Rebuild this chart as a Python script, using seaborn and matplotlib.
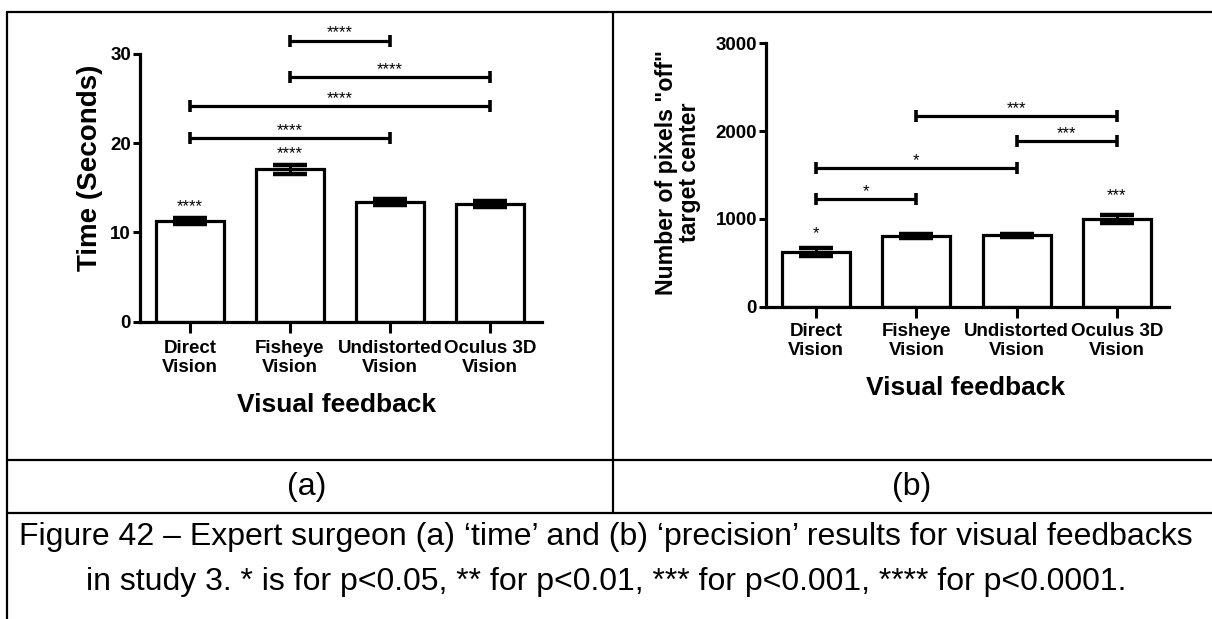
import matplotlib
matplotlib.use("Agg")
import matplotlib.pyplot as plt
import seaborn as sns
import pandas as pd
from matplotlib.lines import Line2D

# ---------------- data ----------------
categories = ["Direct\nVision", "Fisheye\nVision", "Undistorted\nVision", "Oculus 3D\nVision"]

time_mean = [11.3, 17.1, 13.4, 13.2]
time_sem = [0.35, 0.5, 0.3, 0.35]
time_yticks = [0, 10, 20, 30]

pix_mean = [620, 805, 813, 995]
pix_sem = [45, 25, 20, 45]
pix_yticks = [0, 1000, 2000, 3000]

# significance brackets (category pairs, height, label)
time_pairs = [(1, 2), (1, 3), (0, 3), (0, 2)]
time_heights = [31.5, 27.4, 24.2, 20.6]
time_labels = ["****", "****", "****", "****"]
time_bar_stars = ["****", "****", "", ""]
time_bar_star_y = [12.1, 18.0, None, None]

pix_pairs = [(0, 1), (0, 2), (2, 3), (1, 3)]
pix_heights = [1227, 1580, 1888, 2172]
pix_labels = ["*", "*", "***", "***"]
pix_bar_stars = ["*", "", "", "***"]
pix_bar_star_y = [748, None, None, 1181]

ylabel_a = "Time (Seconds)"
ylabel_b = "Number of pixels \"off\"\ntarget center"
xlabel = "Visual feedback"
caption1 = "Figure 42 \u2013 Expert surgeon (a) \u2018time\u2019 and (b) \u2018precision\u2019 results for visual feedbacks"
caption2 = "in study 3. * is for p<0.05, ** for p<0.01, *** for p<0.001, **** for p<0.0001."

# ---------------- style ----------------
sns.set_style("ticks")
plt.rcParams["font.family"] = ["Liberation Sans", "DejaVu Sans"]
for k in ["text.color", "axes.labelcolor", "xtick.color", "ytick.color", "axes.edgecolor"]:
    plt.rcParams[k] = "black"

W, H = 1212, 619
fig = plt.figure(figsize=(W / 100, H / 100), dpi=100)


def px_axes(x0, y_top, x1, y_bot):
    return [x0 / W, 1 - y_bot / H, (x1 - x0) / W, (y_bot - y_top) / H]


def draw_panel(ax, means, sems, yticks, pairs, heights, labels, bstars, bstar_y,
               ylabel, ylabel_size, ylabel_pos, xlabel_pos, cap_px, xpad):
    df = pd.DataFrame({"cat": categories, "val": means})
    sns.barplot(data=df, x="cat", y="val", ax=ax, color="white", edgecolor="black",
                linewidth=2.3, width=0.68, saturation=1, errorbar=None)
    ax.errorbar(range(len(means)), means, yerr=sems, fmt="none", ecolor="black",
                elinewidth=2.2, capsize=cap_px / 1.389, capthick=3.2, zorder=5)
    ax.set_ylim(yticks[0], yticks[-1])
    ax.set_xlim(-0.5, 3.52)
    ax.set_yticks(yticks)
    ax.set_yticklabels([str(t) for t in yticks], fontsize=13.5, fontweight="bold")
    ax.set_xticks(range(len(categories)))
    ax.set_xticklabels(categories, fontsize=13.5, fontweight="bold", linespacing=1.15)
    ax.tick_params(axis="x", length=8, width=2.2, pad=xpad, color="black", labelcolor="black")
    ax.tick_params(axis="y", length=5, width=2.2, pad=1.5, color="black", labelcolor="black")
    sns.despine(ax=ax)
    for s in ["left", "bottom"]:
        ax.spines[s].set_linewidth(2.3)
        ax.spines[s].set_color("black")
    ax.set_ylabel(ylabel, fontsize=ylabel_size, fontweight="bold", linespacing=1.0, color="black")
    ax.yaxis.label.set_verticalalignment("center")
    ax.yaxis.set_label_coords(*ylabel_pos)
    ax.set_xlabel(xlabel, fontsize=19, fontweight="bold", color="black")
    ax.xaxis.label.set_verticalalignment("center")
    ax.xaxis.set_label_coords(*xlabel_pos)
    for (a, b), h, lab in zip(pairs, heights, labels):
        ax.plot([a, b], [h, h], color="black", lw=2.3, marker="|", markersize=8,
                markeredgewidth=2.6, clip_on=False, solid_capstyle="butt")
        ax.text((a + b) / 2, h, lab, ha="center", va="bottom", fontsize=12,
                color="black", clip_on=False)
    for i, (s, y) in enumerate(zip(bstars, bstar_y)):
        if s:
            ax.text(i, y, s, ha="center", va="bottom", fontsize=12, color="black")


ax1 = fig.add_axes(px_axes(140, 54, 542, 321.7))
draw_panel(ax1, time_mean, time_sem, time_yticks, time_pairs, time_heights, time_labels,
           time_bar_stars, time_bar_star_y, ylabel_a, 20, (-0.124, 0.575), (0.49, -0.311), 17.5, 5)

ax2 = fig.add_axes(px_axes(766, 43.3, 1169, 306.7))
draw_panel(ax2, pix_mean, pix_sem, pix_yticks, pix_pairs, pix_heights, pix_labels,
           pix_bar_stars, pix_bar_star_y, ylabel_b, 16.7, (-0.218, 0.511), (0.494, -0.307), 17.5, 3.5)

# ---------------- table frame ----------------
def hline(y, x0=7, x1=W):
    fig.add_artist(Line2D([x0 / W, x1 / W], [1 - y / H, 1 - y / H], color="black", lw=1.6,
                          transform=fig.transFigure))


def vline(x, y0, y1):
    fig.add_artist(Line2D([x / W, x / W], [1 - y0 / H, 1 - y1 / H], color="black", lw=1.6,
                          transform=fig.transFigure))


hline(12)
hline(460)
hline(513)
vline(7, 12, H)
vline(613, 12, 513)

fig.text(307 / W, 1 - 487 / H, "(a)", ha="center", va="center", fontsize=23, color="black")
fig.text(912 / W, 1 - 487 / H, "(b)", ha="center", va="center", fontsize=23, color="black")
fig.text(606 / W, 1 - 537 / H, caption1, ha="center", va="center", fontsize=23, color="black")
fig.text(606 / W, 1 - 582 / H, caption2, ha="center", va="center", fontsize=23, color="black")

fig.savefig("out.png", dpi=100)
